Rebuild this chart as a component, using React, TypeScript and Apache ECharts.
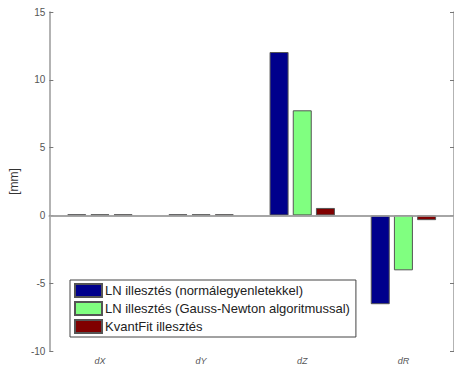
import React, { useEffect, useRef } from "react";
import * as echarts from "echarts";

const categories = ["dX", "dY", "dZ", "dR"];
const lnNormal = [0.08, 0.08, 12.05, -6.55];
const lnGauss = [0.08, 0.08, 7.75, -4.05];
const kvantFit = [0.08, 0.08, 0.55, -0.35];
const seriesNames = [
  "LN illesztés (normálegyenletekkel)",
  "LN illesztés (Gauss-Newton algoritmussal)",
  "KvantFit illesztés",
];
const yTicks = { min: -10, max: 15, interval: 5 };

export default function App() {
  const ref = useRef<HTMLDivElement>(null);
  useEffect(() => {
    if (!ref.current) return;
    const chart = echarts.init(ref.current, undefined, { renderer: "svg" });
    const axisGray = "#9a9a9a";
    const font = "Liberation Sans, Arial, sans-serif";
    const mkBar = (name: string, data: number[], color: string, withZero = false) => ({
      name,
      type: "bar",
      data,
      barWidth: 19,
      barGap: "22%",
      itemStyle: { color, borderColor: "#555", borderWidth: 1 },
      ...(withZero
        ? {
            markLine: {
              silent: true,
              symbol: "none",
              label: { show: false },
              lineStyle: { color: "#a8a8a8", type: "solid", width: 1.5 },
              data: [{ yAxis: 0 }],
            },
          }
        : {}),
    });
    chart.setOption({
      animation: false,
      textStyle: { fontFamily: font },
      grid: { left: 42, top: 12, right: -3, bottom: 10 },
      legend: {
        orient: "vertical",
        left: 70,
        top: 280,
        padding: [3, 6, 3, 4],
        itemGap: 3,
        itemWidth: 27,
        itemHeight: 13,
        icon: "rect",
        borderColor: "#444",
        borderWidth: 1,
        backgroundColor: "#fff",
        textStyle: { fontFamily: font, fontSize: 13, color: "#222", padding: [0, 0, 0, -2] },
        data: seriesNames,
      },
      xAxis: [
        {
          type: "category",
          data: categories,
          position: "bottom",
          axisLine: { lineStyle: { color: axisGray, width: 1.5 } },
          axisTick: { alignWithLabel: true, inside: true, length: 4, lineStyle: { color: "#777" } },
          axisLabel: { fontSize: 9, fontStyle: "italic", color: "#555", margin: 5 },
        },
        {
          type: "category",
          data: categories,
          position: "top",
          axisLine: { lineStyle: { color: axisGray, width: 1.5 } },
          axisTick: { alignWithLabel: true, inside: true, length: 4, lineStyle: { color: "#777" } },
          axisLabel: { show: false },
        },
      ],
      yAxis: [
        {
          type: "value",
          min: yTicks.min,
          max: yTicks.max,
          interval: yTicks.interval,
          name: "[mm]",
          nameLocation: "middle",
          nameRotate: 90,
          nameGap: 20,
          nameTextStyle: { fontSize: 12, color: "#333", fontFamily: font },
          axisLine: { show: true, lineStyle: { color: axisGray, width: 1.5 } },
          axisTick: { show: true, inside: true, length: 4, lineStyle: { color: "#777" } },
          axisLabel: { fontSize: 10, color: "#555", margin: 4 },
          splitLine: { show: false },
        },
        {
          type: "value",
          min: yTicks.min,
          max: yTicks.max,
          interval: yTicks.interval,
          position: "right",
          axisLine: { show: true, lineStyle: { color: axisGray, width: 1.5 } },
          axisTick: { show: true, inside: true, length: 4, lineStyle: { color: "#777" } },
          axisLabel: { show: false },
          splitLine: { show: false },
        },
      ],
      series: [
        mkBar(seriesNames[0], lnNormal, "#00008c"),
        mkBar(seriesNames[1], lnGauss, "#80ff80"),
        mkBar(seriesNames[2], kvantFit, "#800000", true),
      ],
    });
    return () => chart.dispose();
  }, []);
  return <div ref={ref} style={{ width: 454, height: 365, position: "absolute", left: 0, top: 0 }} />;
}
